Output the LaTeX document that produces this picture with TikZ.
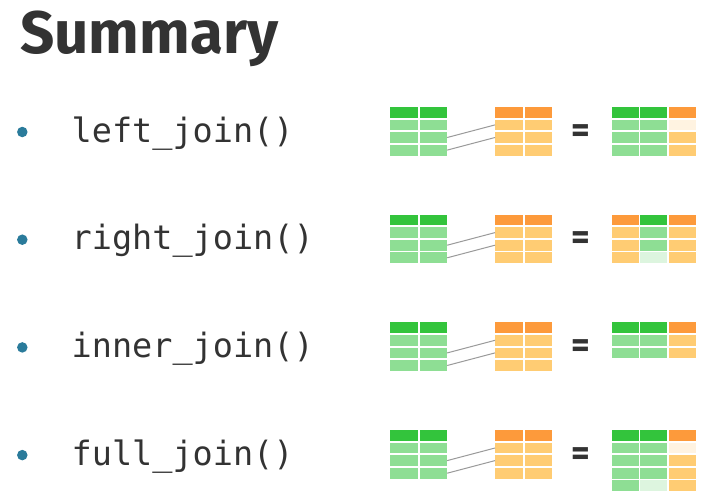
\documentclass[tikz,border=0pt]{standalone}
\usepackage{fontspec}
\setmainfont{Fira Sans}
\setmonofont{DejaVu Sans Mono}
\definecolor{gH}{HTML}{33C43C}
\definecolor{gL}{HTML}{8EDE94}
\definecolor{gV}{HTML}{DDF5DF}
\definecolor{oH}{HTML}{FD9A3B}
\definecolor{oL}{HTML}{FFCC73}
\definecolor{oV}{HTML}{FFF3E1}
\definecolor{txt}{HTML}{333333}
\definecolor{bul}{HTML}{2A7B9B}
\definecolor{lnk}{HTML}{9A9A9A}
\tikzset{
  cell/.style={fill=#1, draw=none, minimum width=27.5pt, minimum height=10.8pt, inner sep=0pt, anchor=north west},
  rcell/.style={fill=#1, draw=none, minimum width=27pt, minimum height=10.8pt, inner sep=0pt, anchor=north west},
  bulletdot/.style={circle, fill=bul, draw=none, minimum size=10.5pt, inner sep=0pt},
  fname/.style={anchor=base west, inner sep=0pt, text=txt, font=\ttfamily\fontsize{33.5}{36}\selectfont},
  eqsign/.style={inner sep=0pt, text=txt, font=\bfseries\fontsize{36}{36}\selectfont},
  link/.style={draw=lnk, line width=1pt},
}
\newcommand\srctab[5]{%
  \foreach \r in {0,1,2,3}{\foreach \c in {0,1}{%
    \ifnum\r=0 \def\cc{#4}\else\def\cc{#5}\fi
    \node[cell=\cc] (#1-\r-\c) at ({#2+\c*29.3},{#3+\r*12.6}) {};
  }}}
\newcommand\restab[4]{%
  \foreach \ca/\cb/\cc [count=\r from 0] in {#4}{%
    \node[rcell=\ca] (#1-\r-0) at ({#2},{#3+\r*12.6}) {};
    \node[rcell=\cb] (#1-\r-1) at ({#2+28.7},{#3+\r*12.6}) {};
    \node[rcell=\cc] (#1-\r-2) at ({#2+57.4},{#3+\r*12.6}) {};
  }}
\newcommand\joinrow[3]{% #1 index, #2 table top y, #3 label
  \srctab{L#1}{390}{#2}{gH}{gL}
  \srctab{M#1}{495}{#2}{oH}{oL}
  \draw[link] (L#1-2-1.east) -- (M#1-1-0.west);
  \draw[link] (L#1-3-1.east) -- (M#1-2-0.west);
  \node[bulletdot] (b#1) at (22.3,{#2+25.3}) {};
  \node[fname] (t#1) at (71.5,{#2+35.3}) {#3};
  \node[eqsign] (eq#1) at (580.5,{#2+26.5}) {=};
}
\begin{document}
\begin{tikzpicture}[x=1pt,y=-1pt]
\useasboundingbox[fill=white] (0,0) rectangle (710,498);
\node[anchor=base west, inner sep=0pt, text=txt, font=\bfseries\fontsize{60}{64}\selectfont] (title) at (20,53) {Summary};
\joinrow{1}{106.7}{left\_join()}
\joinrow{2}{214.4}{right\_join()}
\joinrow{3}{322.1}{inner\_join()}
\joinrow{4}{429.8}{full\_join()}
\restab{R1}{611.5}{106.7}{gH/gH/oH, gL/gL/oV, gL/gL/oL, gL/gL/oL}
\restab{R2}{611.5}{214.4}{oH/gH/oH, oL/gL/oL, oL/gL/oL, oL/gV/oL}
\restab{R3}{611.5}{322.1}{gH/gH/oH, gL/gL/oL, gL/gL/oL}
\restab{R4}{611.5}{429.8}{gH/gH/oH, gL/gL/oV, gL/gL/oL, gL/gL/oL, gL/gV/oL}
\end{tikzpicture}
\end{document}
